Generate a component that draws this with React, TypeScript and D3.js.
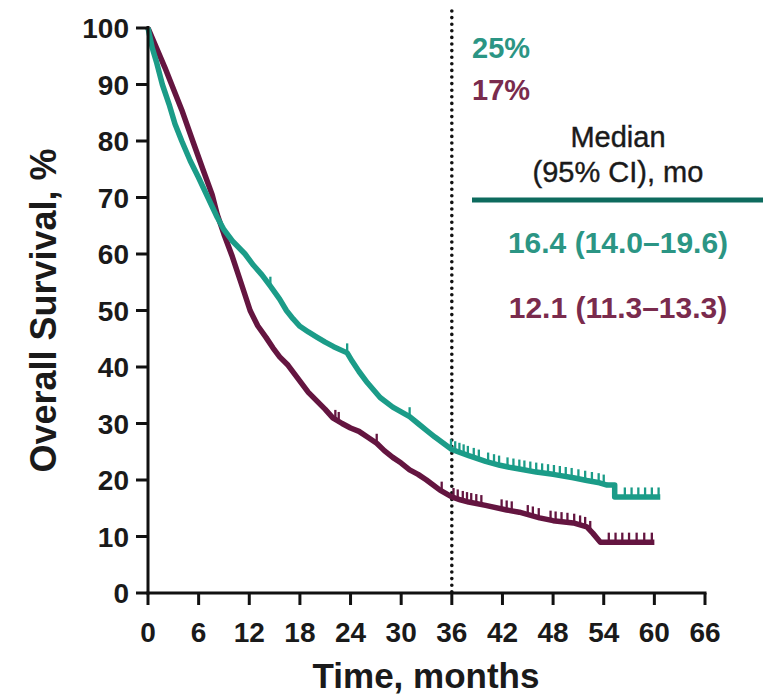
import React from 'react';
import * as d3 from 'd3';

// Axis ticks
const xTicks = [0, 6, 12, 18, 24, 30, 36, 42, 48, 54, 60, 66];
const yTicks = [0, 10, 20, 30, 40, 50, 60, 70, 80, 90, 100];

// Kaplan-Meier estimates, arm A (teal)
const tealTime = [0, 0.5, 1, 1.7, 2.5, 3.2, 4, 5, 6, 7.1, 8.2, 9, 10, 11.5, 12.5, 13.5, 14.5, 15.6, 16.4, 17.2, 18, 19, 20, 21, 22, 23.6, 24.2, 25, 26, 27.5, 29, 31, 32, 33, 34, 35, 36, 38, 40, 41.7, 43, 44.5, 46, 48, 50.4, 52, 53.5, 54.4, 55.3, 55.3, 60.7];
const tealSurv = [100, 96.5, 94, 90, 86.5, 83, 80, 76.5, 73.5, 70, 66.5, 64.3, 62.3, 60, 58, 56.3, 54.3, 52, 50, 48.5, 47.2, 46.2, 45.3, 44.4, 43.6, 42.5, 41, 39.2, 37.2, 34.6, 32.9, 31.2, 30, 28.8, 27.6, 26.5, 25.4, 24.3, 23.3, 22.6, 22.2, 21.8, 21.4, 21, 20.4, 19.9, 19.5, 19.1, 19.1, 17, 17];

// Kaplan-Meier estimates, arm B (maroon)
const maroonTime = [0, 1, 2, 2.8, 4, 5.3, 6.5, 7.6, 8.2, 9, 10, 11, 12.1, 13, 14, 14.8, 15.6, 16.6, 18, 19, 20, 21, 21.9, 23, 24, 25, 26, 27.1, 28, 29, 30, 31, 32, 33, 34.6, 36, 37, 38, 40, 42.5, 44, 46.4, 48, 50.4, 52, 52.7, 53.6, 60];
const maroonSurv = [100, 96.5, 93, 90, 85.5, 80, 75, 70.5, 67, 63.5, 59.5, 55, 50, 47.3, 45.2, 43.4, 41.8, 40.3, 37.5, 35.5, 34, 32.5, 31, 30, 29.2, 28.6, 27.6, 26.5, 25.2, 24, 23, 21.8, 21, 20, 18.2, 17, 16.5, 16.1, 15.5, 14.7, 14.3, 13.3, 12.8, 12.4, 11.7, 10.6, 9, 9];

// Censoring times
const tealCensor = [14.5, 23.6, 31.0, 35.9, 36.4, 36.9, 37.4, 37.9, 38.6, 39.2, 40.3, 41.0, 41.6, 42.6, 43.3, 44.0, 44.6, 45.3, 46.0, 46.7, 47.4, 48.1, 48.8, 49.5, 50.2, 51.0, 51.8, 52.6, 53.4, 54.0, 56.5, 57.3, 58.1, 58.9, 59.7, 60.5];
const maroonCensor = [22.2, 22.6, 27.1, 34.8, 36.2, 36.7, 37.3, 37.8, 38.3, 38.9, 39.5, 41.9, 42.5, 43.1, 45.0, 45.6, 46.3, 47.7, 48.3, 49.0, 49.7, 50.5, 51.2, 51.8, 52.4, 54.6, 55.4, 56.2, 57.0, 57.9, 58.8, 59.7];

// Landmark and median summaries
const landmarkMonth = 36;
const landmarkLabels = ['25%', '17%'];
const medianLabels = ['16.4 (14.0\u201319.6)', '12.1 (11.3\u201313.3)'];

const TEAL = '#1b9c88';
const MAROON = '#641540';
const TEAL_TEXT = '#2b9584';
const MAROON_TEXT = '#7a2b4d';
const FONT = '"Liberation Sans", Arial, Helvetica, sans-serif';

function survAt(times: number[], surv: number[], t: number): number {
  for (let i = 0; i < times.length - 1; i++) {
    const t0 = times[i], t1 = times[i + 1];
    if (t >= t0 && t <= t1) {
      if (t1 === t0) return surv[i + 1];
      return surv[i] + ((surv[i + 1] - surv[i]) * (t - t0)) / (t1 - t0);
    }
  }
  return surv[surv.length - 1];
}

export default function App() {
  const W = 763;
  const H = 697;
  const x = d3.scaleLinear().domain([0, 66]).range([148, 705]);
  const y = d3.scaleLinear().domain([0, 100]).range([593, 28]);
  const line = d3
    .line<[number, number]>()
    .x((d) => x(d[0]))
    .y((d) => y(d[1]))
    .curve(d3.curveLinear);

  const tealPts = tealTime.map((t, i) => [t, tealSurv[i]] as [number, number]);
  const maroonPts = maroonTime.map((t, i) => [t, maroonSurv[i]] as [number, number]);

  const censorMarks = (times: number[], surv: number[], cens: number[], color: string, key: string) =>
    cens.map((c, i) => {
      const s = survAt(times, surv, c);
      return (
        <line
          key={key + i}
          x1={x(c)}
          x2={x(c)}
          y1={y(s)}
          y2={y(s) - 9.5}
          stroke={color}
          strokeWidth={2.3}
        />
      );
    });

  const legendCx = 618;

  return (
    <svg
      width={W}
      height={H}
      viewBox={`0 0 ${W} ${H}`}
      style={{ position: 'absolute', left: 0, top: 0, background: '#fff' }}
      fontFamily={FONT}
    >
      <rect width={W} height={H} fill="#fff" />

      {/* Landmark reference line */}
      <line
        x1={x(landmarkMonth)}
        x2={x(landmarkMonth)}
        y1={11}
        y2={y(0)}
        stroke="#111"
        strokeWidth={3.6}
        strokeDasharray="0 6.6"
        strokeLinecap="round"
      />

      {/* Survival curves */}
      <path d={line(maroonPts) || ''} fill="none" stroke={MAROON} strokeWidth={5.5} strokeLinejoin="round" />
      {censorMarks(maroonTime, maroonSurv, maroonCensor, MAROON, 'm')}
      <path d={line(tealPts) || ''} fill="none" stroke={TEAL} strokeWidth={5.5} strokeLinejoin="round" />
      {censorMarks(tealTime, tealSurv, tealCensor, TEAL, 't')}

      {/* Y axis */}
      <line x1={x(0)} x2={x(0)} y1={y(100) - 2} y2={y(0) + 1.5} stroke="#111" strokeWidth={3} />
      {yTicks.map((v) => (
        <g key={'y' + v}>
          <line x1={x(0) - 12} x2={x(0)} y1={y(v)} y2={y(v)} stroke="#111" strokeWidth={3} />
          <text
            x={x(0) - 19}
            y={y(v)}
            dy="0.36em"
            textAnchor="end"
            fontSize={28}
            fontWeight="bold"
            fill="#1a1a1a"
          >
            {v}
          </text>
        </g>
      ))}

      {/* X axis */}
      <line x1={x(0) - 1.5} x2={x(66) + 1.5} y1={y(0)} y2={y(0)} stroke="#111" strokeWidth={3} />
      {xTicks.map((v) => (
        <g key={'x' + v}>
          <line x1={x(v)} x2={x(v)} y1={y(0)} y2={y(0) + 12} stroke="#111" strokeWidth={3} />
          <text x={x(v)} y={642} textAnchor="middle" fontSize={28} fontWeight="bold" fill="#1a1a1a">
            {v}
          </text>
        </g>
      ))}

      {/* Axis titles */}
      <text x={426} y={688} textAnchor="middle" fontSize={35} fontWeight="bold" fill="#1a1a1a">
        Time, months
      </text>
      <text
        transform={`translate(56, ${(y(0) + y(100)) / 2}) rotate(-90)`}
        textAnchor="middle"
        fontSize={36}
        fontWeight="bold"
        fill="#1a1a1a"
      >
        Overall Survival, %
      </text>

      {/* Landmark survival rates */}
      <text x={472} y={58} fontSize={29} fontWeight="bold" fill={TEAL_TEXT}>
        {landmarkLabels[0]}
      </text>
      <text x={472} y={100} fontSize={29} fontWeight="bold" fill={MAROON_TEXT}>
        {landmarkLabels[1]}
      </text>

      {/* Median table */}
      <text x={legendCx} y={147} textAnchor="middle" fontSize={29} fill="#1a1a1a" stroke="#1a1a1a" strokeWidth={0.4}>
        Median
      </text>
      <text x={legendCx} y={182} textAnchor="middle" fontSize={29} fill="#1a1a1a" stroke="#1a1a1a" strokeWidth={0.4}>
        (95% CI), mo
      </text>
      <line x1={472} x2={763} y1={200} y2={200} stroke="#0d6b5e" strokeWidth={5} />
      <text x={legendCx} y={253} textAnchor="middle" fontSize={30} fontWeight="bold" fill={TEAL_TEXT}>
        {medianLabels[0]}
      </text>
      <text x={legendCx} y={318} textAnchor="middle" fontSize={30} fontWeight="bold" fill={MAROON_TEXT}>
        {medianLabels[1]}
      </text>
    </svg>
  );
}
